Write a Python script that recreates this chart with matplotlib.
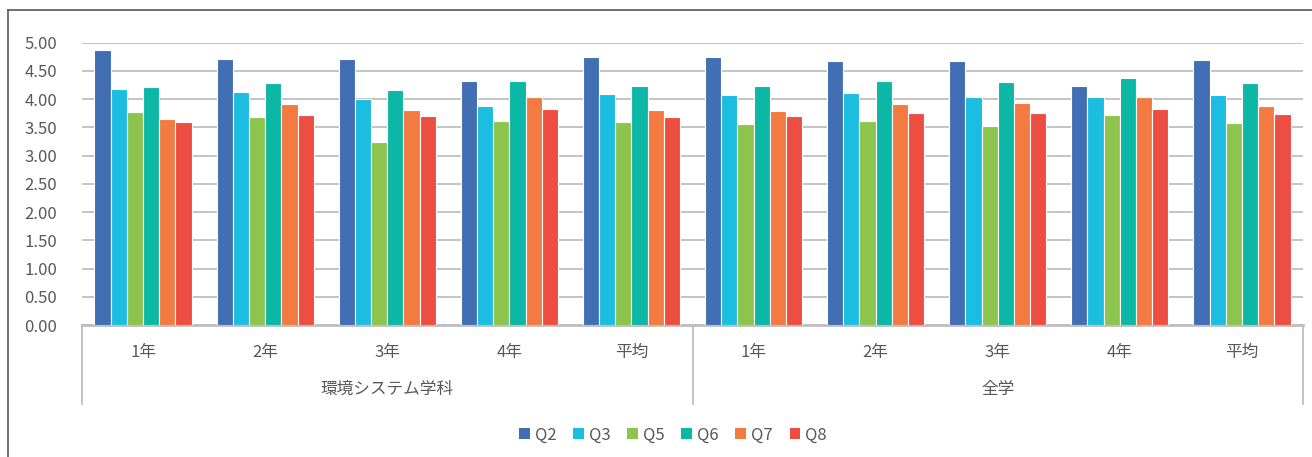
import matplotlib
matplotlib.use("Agg")
import matplotlib.pyplot as plt
from matplotlib.lines import Line2D
from matplotlib.patches import Patch
import numpy as np

plt.rcParams['font.family'] = ['Noto Sans CJK JP', 'DejaVu Sans']

categories = ["1年", "2年", "3年", "4年", "平均", "1年", "2年", "3年", "4年", "平均"]
groups = ["環境システム学科", "全学"]
series_names = ["Q2", "Q3", "Q5", "Q6", "Q7", "Q8"]
q2 = [4.87, 4.71, 4.72, 4.33, 4.74, 4.75, 4.68, 4.67, 4.24, 4.69]
q3 = [4.18, 4.12, 4.01, 3.88, 4.10, 4.07, 4.11, 4.04, 4.03, 4.07]
q5 = [3.77, 3.69, 3.25, 3.62, 3.59, 3.56, 3.62, 3.52, 3.72, 3.58]
q6 = [4.21, 4.29, 4.17, 4.32, 4.23, 4.24, 4.32, 4.30, 4.37, 4.29]
q7 = [3.65, 3.91, 3.81, 4.04, 3.81, 3.79, 3.92, 3.94, 4.04, 3.87]
q8 = [3.59, 3.72, 3.71, 3.83, 3.68, 3.70, 3.75, 3.75, 3.83, 3.73]
yticks = [0, 0.5, 1.0, 1.5, 2.0, 2.5, 3.0, 3.5, 4.0, 4.5, 5.0]

series = [q2, q3, q5, q6, q7, q8]
colors = ["#426EB4", "#1BBDE0", "#8DC44E", "#0CB7A5", "#F37A40", "#EE4E42"]
txt = "#595959"
grid = "#BFBFBF"

fig = plt.figure(figsize=(13.12, 4.57), dpi=100)
ax = fig.add_axes([82/1312, 1-325/457, (1303-82)/1312, (325-42.7)/457])

x = np.arange(len(categories))
n = len(series)
w = 0.1327
for i, (vals, c) in enumerate(zip(series, colors)):
    ax.bar(x + (i - (n-1)/2) * w, vals, width=w, color=c, edgecolor="white",
           linewidth=0.8, zorder=3, label=series_names[i])

ax.set_xlim(-0.5, len(categories) - 0.5)
ax.set_ylim(0, 5.0)
ax.set_yticks(yticks)
ax.set_yticklabels([f"{v:.2f}" for v in yticks], color=txt, fontsize=12)
ax.grid(axis="y", color=grid, linewidth=1.3, zorder=0)
ax.set_axisbelow(True)
for s in ["left", "right", "top"]:
    ax.spines[s].set_visible(False)
ax.spines["bottom"].set_color(grid)
ax.spines["bottom"].set_linewidth(2)
ax.tick_params(axis="y", length=0, pad=18)
ax.set_xticks(x)
ax.set_xticklabels(categories, color=txt, fontsize=12)
ax.tick_params(axis="x", length=0, pad=14)

# group labels and separators
trans = ax.get_xaxis_transform()
ax.text(2.0, -0.228, groups[0], transform=trans, ha="center", va="center",
        color=txt, fontsize=12)
ax.text(7.0, -0.228, groups[1], transform=trans, ha="center", va="center",
        color=txt, fontsize=12)
for xs in [-0.5, 4.5, 9.5]:
    ax.add_line(Line2D([xs, xs], [0, -0.28], transform=trans, color=grid,
                       linewidth=1.3, clip_on=False))

# legend
handles = [Patch(facecolor=c, edgecolor="none") for c in colors]
leg = fig.legend(handles, series_names, loc="center", bbox_to_anchor=(673/1312, 1-435/457),
                 ncol=6, frameon=False, fontsize=12, handlelength=0.65, handleheight=0.65,
                 handletextpad=0.3, columnspacing=1.0)
for t in leg.get_texts():
    t.set_color(txt)

# chart border
fig.add_artist(Line2D([8/1312, 8/1312], [0, 1-10/457], color="#595959", linewidth=1.2))
fig.add_artist(Line2D([8/1312, 1], [1-10/457, 1-10/457], color="#595959", linewidth=1.2))

fig.savefig("out.png", dpi=100, facecolor="white")
